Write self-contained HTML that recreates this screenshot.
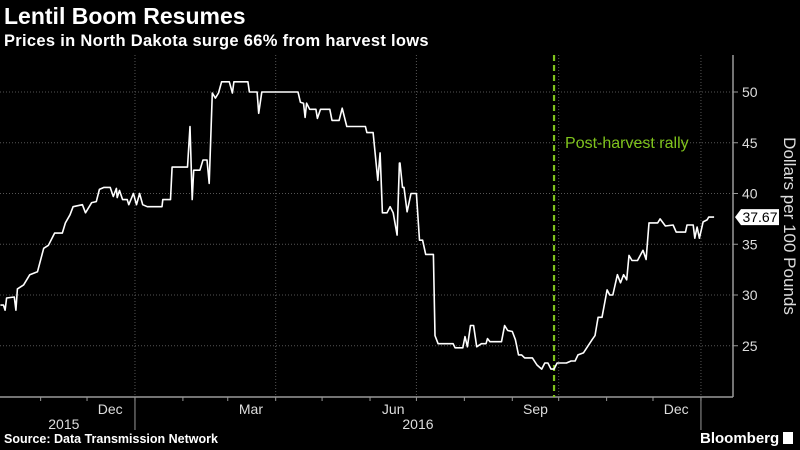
<!DOCTYPE html>
<html><head><meta charset="utf-8"><style>
html,body{margin:0;padding:0;background:#000;}
body{width:800px;height:450px;overflow:hidden;font-family:"Liberation Sans",sans-serif;color:#fff;position:relative;}
.t{position:absolute;left:4px;white-space:nowrap;}
</style></head><body>
<div class="t" style="top:3px;font-size:23px;font-weight:bold;">Lentil Boom Resumes</div>
<div class="t" style="top:32px;font-size:16.5px;font-weight:bold;letter-spacing:0.3px;">Prices in North Dakota surge 66% from harvest lows</div>
<svg id="chart" width="800" height="450" style="position:absolute;left:0;top:0"></svg>
<div class="t" style="top:432px;font-size:12.5px;font-weight:bold;">Source: Data Transmission Network</div>
<div style="position:absolute;left:700px;top:430px;font-size:15px;font-weight:bold;white-space:nowrap;">Bloomberg <span style="display:inline-block;width:10px;height:12px;background:#fff;vertical-align:-1px"></span></div>
<script>
const days=[5,7,8,9,14,15,16,20,24,29,33,36,40,45,47,50,52,58,60,64,67,69,72,76,78,80,80.5,82,84,87,88,91,93,95,97,100,109.5,110,115,116,126,127.6,129,130,134,136,138.6,140,142,144,146,148,153,155,156,165,166,171,172,174,197.4,199,201,202,203,205,209,210,212,218,219.4,224,226,229,241,242,246,249,250.5,252,255,257,259,261.5,263,263.4,265,266,268,270.5,274,276,278,280,285,286,288,297.7,299,304,305.4,307,309,311,313,316,319,320,321.6,329,331,333,336,338,340,342,344,349,352,355,357,359,361,363,365,371,374,376.6,378.5,382,387.6,389.5,391.5,394,397.3,399,401,404,406,408,410,411.5,413.4,417,420.5,422.5,424.4,430,431.6,435,440,442,448,449,453,454,455.5,457,459.4,462,463,466.5];
const prices=[29,29,28.5,29.7,29.8,28.5,30.6,31,32,32.3,34.6,34.9,36.1,36.1,37.1,37.9,38.7,38.9,38.1,39.1,39.2,40.4,40.6,40.6,39.7,40.5,39.6,40.3,39.4,39.4,38.9,40,38.9,40,38.9,38.7,38.7,39.4,39.4,42.6,42.6,46.6,39.4,42.3,42.3,43.3,43.3,41,49.9,49.4,49.9,51,51,49.9,51,51,50,50,47.9,50,50,49,48.9,47.5,48.9,48.3,48.3,47.4,48.3,48.3,47.2,47.2,48.4,46.6,46.6,46,46,41.3,44,38.1,38.1,38.7,38.1,35.9,43,43,40.6,40.6,38.2,40,40,35.4,35.4,34,34,26,25.2,25.2,24.8,24.8,25.9,24.9,27,27,24.9,25.2,25.2,25.7,25.4,25.4,27,26.5,26.4,25.6,24.1,24.1,23.8,23.8,23.1,22.7,23.3,23.3,22.7,22.7,23.3,23.3,23.5,23.5,24.1,24.3,25.6,26,27.8,27.8,30.5,30,30,32,31.2,32,31.5,33.9,33.4,33.4,34.4,33.5,37.1,37.1,37.5,36.8,36.9,36.2,36.2,36.9,36.9,35.6,36.7,35.6,37.2,37.4,37.67,37.67];
const yTicks=[25,30,35,40,45,50];
const monthDays=[0,31,61,92,123,152,183,213,244,274,305,336,366,397,427,458];
const monthLabels=[{d:61,t:"Dec"},{d:152,t:"Mar"},{d:244,t:"Jun"},{d:336,t:"Sep"},{d:427,t:"Dec"}];
const gridDays=[92,183,274,366,458];
const yearLabels=[{d:46,t:"2015"},{d:275,t:"2016"}];
const rallyDay=363;
const lastValue=37.67;

const X=d=>-7.3+d*1.5464;
const Y=v=>92+(50-v)*10.15;
const svg=document.getElementById('chart');
const NS='http://www.w3.org/2000/svg';
function mk(tag,attrs){const e=document.createElementNS(NS,tag);for(const k in attrs)e.setAttribute(k,attrs[k]);svg.appendChild(e);return e;}
const axX=733,axB=397;
yTicks.forEach(v=>{
  const g=mk('line',{x1:0,x2:axX,y1:Y(v),y2:Y(v),stroke:'#555','stroke-width':1,'stroke-dasharray':'1,2'});
  
  
  mk('line',{x1:axX,x2:axX+5,y1:Y(v),y2:Y(v),stroke:'#999'});
  const t=mk('text',{x:742,y:Y(v)+5,fill:'#ddd','font-size':14,'font-family':'Liberation Sans'});
  t.textContent=v;
  
  
});
gridDays.forEach(d=>{
  const g=mk('line',{x1:X(d),x2:X(d),y1:55,y2:axB,stroke:'#555','stroke-width':1,'stroke-dasharray':'1,2'});
  
  
});
mk('line',{x1:0,x2:axX,y1:axB,y2:axB,stroke:'#999','stroke-width':1.5});
mk('line',{x1:axX,x2:axX,y1:55,y2:axB,stroke:'#999','stroke-width':1.5});
monthDays.forEach(d=>{mk('line',{x1:X(d),x2:X(d),y1:axB,y2:axB+4,stroke:'#999'});});
mk('line',{x1:X(92),x2:X(92),y1:axB,y2:430,stroke:'#999'});
mk('line',{x1:X(458),x2:X(458),y1:axB,y2:430,stroke:'#999'});
monthLabels.forEach(m=>{
  const t=mk('text',{x:X(m.d+15),y:414,fill:'#ddd','font-size':14,'text-anchor':'middle','font-family':'Liberation Sans'});
  t.textContent=m.t;
  
  
});
yearLabels.forEach(m=>{
  const t=mk('text',{x:X(m.d),y:429,fill:'#ddd','font-size':14,'text-anchor':'middle','font-family':'Liberation Sans'});
  t.textContent=m.t;
  
  
});
const rl=mk('line',{x1:X(rallyDay),x2:X(rallyDay),y1:55,y2:axB,stroke:'#7fc31c','stroke-width':2.2,'stroke-dasharray':'6,4'});


const rt=mk('text',{x:X(rallyDay)+11,y:148,fill:'#7fc31c','font-size':16,'font-family':'Liberation Sans'});
rt.textContent='Post-harvest rally';


const pts=days.map((d,i)=>X(d).toFixed(1)+','+Y(prices[i]).toFixed(1)).join(' ');
const pl=mk('polyline',{points:pts,fill:'none',stroke:'#fff','stroke-width':1.6,'stroke-linejoin':'round'});


const ly=Y(lastValue);
const lb=mk('path',{d:`M735,${ly} L741,${ly-8} L779,${ly-8} L779,${ly+8} L741,${ly+8} Z`,fill:'#fff'});


const lt=mk('text',{x:760,y:ly+5,fill:'#000','font-size':14,'text-anchor':'middle','font-family':'Liberation Sans'});
lt.textContent=lastValue.toFixed(2);


const at=mk('text',{x:0,y:0,fill:'#ddd','font-size':17,'text-anchor':'middle','font-family':'Liberation Sans',transform:'translate(784,226) rotate(90)'});
at.textContent='Dollars per 100 Pounds';


</script>
</body></html>
